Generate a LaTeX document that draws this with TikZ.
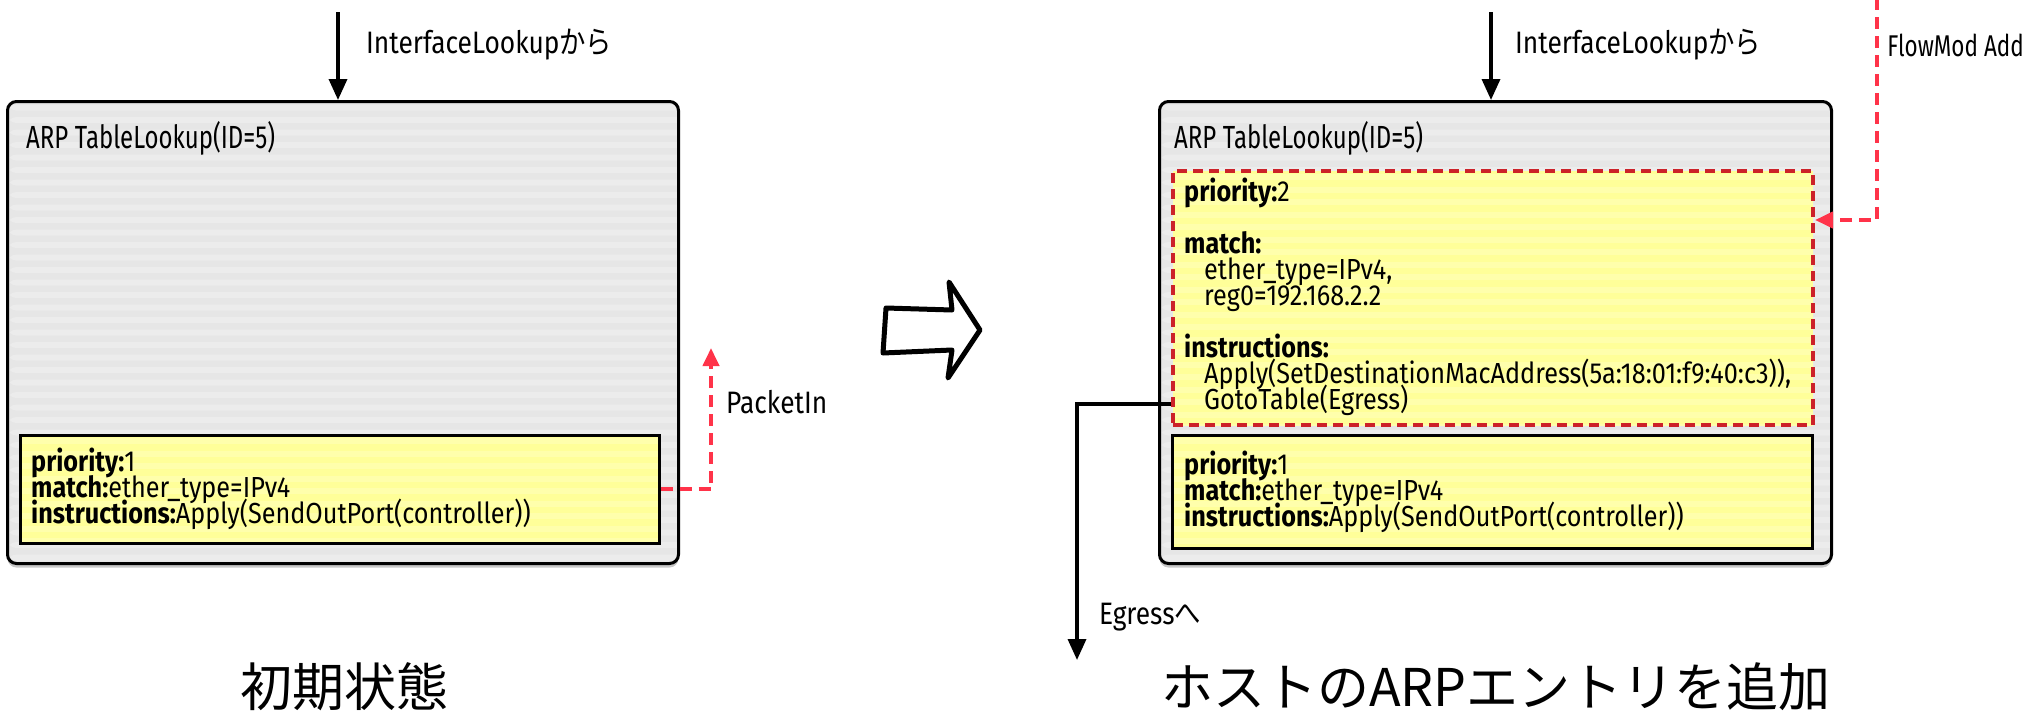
\documentclass[tikz,border=0pt]{standalone}
\usepackage{fontspec}
\newfontfamily\hand[FakeStretch=0.87]{Fira Sans}
\newfontfamily\handh[FakeStretch=0.75]{Fira Sans}
\newfontfamily\handl[FakeStretch=0.85]{Fira Sans}
\newfontfamily\handj[FakeStretch=0.85]{Noto Sans CJK JP}
\newfontfamily\titlej{Noto Sans CJK JP}
\newcommand\mytightlines{\lineskiplimit=-100pt\relax\lineskip=0pt\relax}
\usetikzlibrary{shadows,arrows.meta}

\definecolor{boxgray}{HTML}{E6E6E6}
\definecolor{stripegray}{HTML}{ECECEC}
\definecolor{noteyellow}{HTML}{FFFF99}
\definecolor{stripeyellow}{HTML}{FFFFAC}
\definecolor{flowred}{HTML}{FF3349}
\definecolor{entryred}{HTML}{CC2229}

\tikzset{
  x=1pt, y=-1pt,
  graystripes/.style={path picture={\foreach \i in {0,...,40}{\fill[stripegray] ([yshift=-\i*12.5pt-3pt]path picture bounding box.north west) rectangle ++(2000pt,-6pt);}}},
  yellowstripes/.style={path picture={\foreach \i in {0,...,25}{\fill[stripeyellow] ([yshift=-\i*12.5pt-3pt]path picture bounding box.north west) rectangle ++(2000pt,-6pt);}}},
  tablebox/.style={draw=black, line width=3pt, rounded corners=9pt, fill=boxgray, anchor=north west, inner sep=0pt, drop shadow={shadow xshift=0pt, shadow yshift=-4pt, fill=black, opacity=0.22}, graystripes},
  entrybox/.style={draw=black, line width=2.5pt, fill=noteyellow, anchor=north west, inner sep=0pt, yellowstripes},
  newentrybox/.style={draw=entryred, line width=4pt, dash pattern=on 10pt off 6pt, fill=noteyellow, anchor=north west, inner sep=0pt, yellowstripes},
  txt/.style={inner sep=0pt, anchor=west, align=left, font={\hand\fontsize{29}{26}\selectfont\mytightlines}},
  headtxt/.style={inner sep=0pt, anchor=west, font=\handh\fontsize{32}{32}\selectfont},
  lbl/.style={inner sep=0pt, anchor=west, font=\handl\fontsize{31}{31}\selectfont},
  edgelbl/.style={inner sep=0pt, anchor=east, font=\handh\fontsize{30}{30}\selectfont},
  titletxt/.style={inner sep=0pt, font=\titlej\fontsize{52}{52}\selectfont},
  blackarrow/.style={draw=black, line width=3.5pt, -{Triangle[length=21pt,width=18pt]}},
  redarrow/.style={draw=flowred, line width=4pt, dash pattern=on 12pt off 7pt, -{Triangle[length=18pt,width=16pt]}},
}

\begin{document}
\begin{tikzpicture}
\useasboundingbox (0,0) rectangle (2034,718);

% ---------------- left: initial state ----------------
\node[tablebox, minimum width=671pt, minimum height=462pt] (Lbox) at (6,100) {};
\node[headtxt] (Lhead) at (26,138) {ARP TableLookup(ID=5)};
\node[entrybox, minimum width=639pt, minimum height=108pt] (Lentry) at (19,434) {};
\node[txt] (Ltext) at (31,489) {\textbf{priority:}1\\\textbf{match:}ether\_type=IPv4\\\textbf{instructions:}Apply(SendOutPort(controller))};

\coordinate (Ltop) at (338,12);
\draw[blackarrow] (Ltop) -- (Ltop |- Lbox.north);
\node[lbl] (Lfrom) at (366,45) {InterfaceLookup{\handj から}};

\coordinate (Lpi) at (711,348);
\draw[redarrow] (Lentry.east) -| (Lpi);
\node[lbl] (Lpacketin) at (726,402) {PacketIn};

\node[titletxt] (Ltitle) at (344,687) {初期状態};

% ---------------- transition arrow ----------------
\draw[line width=5pt, line join=round, line cap=round]
  (886,308) -- (952,310) -- (949,282) -- (980,330) -- (948,378) -- (952,350) -- (883,353) -- cycle;

% ---------------- right: ARP entry added ----------------
\node[tablebox, minimum width=672pt, minimum height=462pt] (Rbox) at (1158,100) {};
\node[headtxt] (Rhead) at (1174,138) {ARP TableLookup(ID=5)};
\node[newentrybox, minimum width=640pt, minimum height=254pt] (Rnew) at (1171,169) {};
\node[txt] (Rnewtext) at (1184,297) {\textbf{priority:}2\\\mbox{}\\\textbf{match:}\\\hspace*{20pt}ether\_type=IPv4,\\\hspace*{20pt}reg0=192.168.2.2\\\mbox{}\\\textbf{instructions:}\\\hspace*{20pt}Apply(SetDestinationMacAddress(5a:18:01:f9:40:c3)),\\\hspace*{20pt}GotoTable(Egress)};
\node[entrybox, minimum width=640pt, minimum height=113pt] (Rold) at (1171,434) {};
\node[txt] (Roldtext) at (1184,492) {\textbf{priority:}1\\\textbf{match:}ether\_type=IPv4\\\textbf{instructions:}Apply(SendOutPort(controller))};

\coordinate (Rtop) at (1491,12);
\draw[blackarrow] (Rtop) -- (Rtop |- Rbox.north);
\node[lbl] (Rfrom) at (1515,45) {InterfaceLookup{\handj から}};

\coordinate (Rfm) at (1877,-2);
\coordinate (Rfmy) at (0,220);
\draw[redarrow] (Rfm) |- (Rnew.east |- Rfmy);
\node[edgelbl] (Rflowmod) at (2024,45) {FlowMod Add};

\coordinate (Eg) at (1077,404);
\coordinate (Egend) at (1077,660);
\draw[blackarrow] (Rnew.west |- Eg) -- (Eg) -- (Egend);
\node[lbl] (Regress) at (1099,617) {Egress{\handj へ}};

\node[titletxt] (Rtitle) at (1496,687) {ホストのARPエントリを追加};
\end{tikzpicture}
\end{document}
